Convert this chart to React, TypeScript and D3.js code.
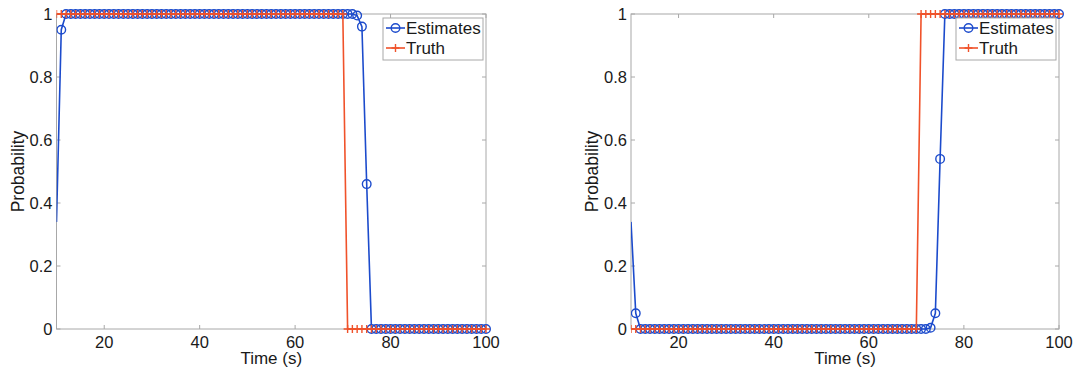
import React from 'react';
import * as d3 from 'd3';

// sampling times (s)
const TIME = [
  10, 11, 12, 13, 14, 15, 16, 17, 18, 19,
  20, 21, 22, 23, 24, 25, 26, 27, 28, 29,
  30, 31, 32, 33, 34, 35, 36, 37, 38, 39,
  40, 41, 42, 43, 44, 45, 46, 47, 48, 49,
  50, 51, 52, 53, 54, 55, 56, 57, 58, 59,
  60, 61, 62, 63, 64, 65, 66, 67, 68, 69,
  70, 71, 72, 73, 74, 75, 76, 77, 78, 79,
  80, 81, 82, 83, 84, 85, 86, 87, 88, 89,
  90, 91, 92, 93, 94, 95, 96, 97, 98, 99,
  100,
];

const LEFT_ESTIMATES = [
  0.34, 0.95, 1, 1, 1, 1, 1, 1, 1, 1,
  1, 1, 1, 1, 1, 1, 1, 1, 1, 1,
  1, 1, 1, 1, 1, 1, 1, 1, 1, 1,
  1, 1, 1, 1, 1, 1, 1, 1, 1, 1,
  1, 1, 1, 1, 1, 1, 1, 1, 1, 1,
  1, 1, 1, 1, 1, 1, 1, 1, 1, 1,
  1, 1, 1, 0.995, 0.96, 0.46, 0, 0, 0, 0,
  0, 0, 0, 0, 0, 0, 0, 0, 0, 0,
  0, 0, 0, 0, 0, 0, 0, 0, 0, 0,
  0,
];

const LEFT_TRUTH = [
  1, 1, 1, 1, 1, 1, 1, 1, 1, 1,
  1, 1, 1, 1, 1, 1, 1, 1, 1, 1,
  1, 1, 1, 1, 1, 1, 1, 1, 1, 1,
  1, 1, 1, 1, 1, 1, 1, 1, 1, 1,
  1, 1, 1, 1, 1, 1, 1, 1, 1, 1,
  1, 1, 1, 1, 1, 1, 1, 1, 1, 1,
  1, 0, 0, 0, 0, 0, 0, 0, 0, 0,
  0, 0, 0, 0, 0, 0, 0, 0, 0, 0,
  0, 0, 0, 0, 0, 0, 0, 0, 0, 0,
  0,
];

const RIGHT_ESTIMATES = [
  0.34, 0.05, 0, 0, 0, 0, 0, 0, 0, 0,
  0, 0, 0, 0, 0, 0, 0, 0, 0, 0,
  0, 0, 0, 0, 0, 0, 0, 0, 0, 0,
  0, 0, 0, 0, 0, 0, 0, 0, 0, 0,
  0, 0, 0, 0, 0, 0, 0, 0, 0, 0,
  0, 0, 0, 0, 0, 0, 0, 0, 0, 0,
  0, 0, 0, 0.004, 0.05, 0.54, 1, 1, 1, 1,
  1, 1, 1, 1, 1, 1, 1, 1, 1, 1,
  1, 1, 1, 1, 1, 1, 1, 1, 1, 1,
  1,
];

const RIGHT_TRUTH = [
  0, 0, 0, 0, 0, 0, 0, 0, 0, 0,
  0, 0, 0, 0, 0, 0, 0, 0, 0, 0,
  0, 0, 0, 0, 0, 0, 0, 0, 0, 0,
  0, 0, 0, 0, 0, 0, 0, 0, 0, 0,
  0, 0, 0, 0, 0, 0, 0, 0, 0, 0,
  0, 0, 0, 0, 0, 0, 0, 0, 0, 0,
  0, 1, 1, 1, 1, 1, 1, 1, 1, 1,
  1, 1, 1, 1, 1, 1, 1, 1, 1, 1,
  1, 1, 1, 1, 1, 1, 1, 1, 1, 1,
  1,
];

const X_DOMAIN = [10, 100];
const X_TICKS = [20, 40, 60, 80, 100];
const Y_TICKS = [0, 0.2, 0.4, 0.6, 0.8, 1];
const SERIES_NAMES = ['Estimates', 'Truth'];

const W = 1079;
const H = 370;
const FONT = '"Liberation Sans", Arial, Helvetica, sans-serif';
const BLUE = '#1c4bcc';
const RED = '#f0522a';
const AXIS = '#a8a8a8';
const TEXT = '#1a1a1a';

type PanelProps = {
  id: string;
  x0: number;
  x1: number;
  y0: number; // top
  y1: number; // bottom
  estimates: number[];
  truth: number[];
};

function Panel({ id, x0, x1, y0, y1, estimates, truth }: PanelProps) {
  const x = d3.scaleLinear().domain(X_DOMAIN).range([x0, x1]);
  const y = d3.scaleLinear().domain([0, 1]).range([y1, y0]);

  const estPts = TIME.map((t, i) => [t, estimates[i]] as [number, number]);
  const truPts = TIME.map((t, i) => [t, truth[i]] as [number, number]);
  const line = d3.line<[number, number]>().x(d => x(d[0])).y(d => y(d[1]));

  const tickLen = 4;
  const r = 4.3;
  const p = 4;

  // legend box
  const lgW = 100;
  const lgH = 42;
  const lgX = x1 - 3 - lgW;
  const lgY = y0 + 4;

  return (
    <g fontFamily={FONT}>
      <defs>
        <clipPath id={`clip-${id}`}>
          <rect x={x0} y={y0 - 10} width={x1 - x0 + 10} height={y1 - y0 + 20} />
        </clipPath>
      </defs>

      {/* axes box */}
      <rect x={x0} y={y0} width={x1 - x0} height={y1 - y0} fill="none" stroke={AXIS} strokeWidth={1} />
      {X_TICKS.map(t => (
        <g key={`xt${t}`}>
          <line x1={x(t)} x2={x(t)} y1={y1} y2={y1 - tickLen} stroke={AXIS} />
          <line x1={x(t)} x2={x(t)} y1={y0} y2={y0 + tickLen} stroke={AXIS} />
          <text x={x(t)} y={y1 + 19} textAnchor="middle" fontSize={16.5} fill={TEXT}>{t}</text>
        </g>
      ))}
      {Y_TICKS.map(t => (
        <g key={`yt${t}`}>
          <line x1={x0} x2={x0 + tickLen} y1={y(t)} y2={y(t)} stroke={AXIS} />
          <line x1={x1} x2={x1 - tickLen} y1={y(t)} y2={y(t)} stroke={AXIS} />
          <text x={x0 - 4} y={y(t) + 6} textAnchor="end" fontSize={16.5} fill={TEXT}>{String(t)}</text>
        </g>
      ))}

      <text x={(x0 + x1) / 2} y={y1 + 35} textAnchor="middle" fontSize={17} fill={TEXT}>Time (s)</text>
      <text
        transform={`translate(${x0 - 33},${(y0 + y1) / 2}) rotate(-90)`}
        textAnchor="middle"
        fontSize={17.5}
        fill={TEXT}
      >
        Probability
      </text>

      <g clipPath={`url(#clip-${id})`}>
        {/* Estimates */}
        <path d={line(estPts) || ''} fill="none" stroke={BLUE} strokeWidth={1.6} />
        {estPts.filter(d => d[0] > X_DOMAIN[0]).map(d => (
          <circle key={`c${d[0]}`} cx={x(d[0])} cy={y(d[1])} r={r} fill="none" stroke={BLUE} strokeWidth={1.4} />
        ))}
        {/* Truth */}
        <path d={line(truPts) || ''} fill="none" stroke={RED} strokeWidth={1.6} />
        {truPts.map(d => (
          <path
            key={`p${d[0]}`}
            d={`M${x(d[0]) - p},${y(d[1])}H${x(d[0]) + p}M${x(d[0])},${y(d[1]) - p}V${y(d[1]) + p}`}
            stroke={RED}
            strokeWidth={1.4}
            fill="none"
          />
        ))}
      </g>

      {/* legend */}
      <rect x={lgX} y={lgY} width={lgW} height={lgH} fill="#fff" stroke={AXIS} strokeWidth={1} />
      <line x1={lgX + 3} x2={lgX + 22} y1={lgY + 10} y2={lgY + 10} stroke={BLUE} strokeWidth={1.6} />
      <circle cx={lgX + 12.5} cy={lgY + 10} r={r} fill="none" stroke={BLUE} strokeWidth={1.4} />
      <text x={lgX + 23} y={lgY + 16} fontSize={17} fill={TEXT}>{SERIES_NAMES[0]}</text>
      <line x1={lgX + 3} x2={lgX + 22} y1={lgY + 30} y2={lgY + 30} stroke={RED} strokeWidth={1.6} />
      <path
        d={`M${lgX + 12.5 - p},${lgY + 30}H${lgX + 12.5 + p}M${lgX + 12.5},${lgY + 30 - p}V${lgY + 30 + p}`}
        stroke={RED}
        strokeWidth={1.4}
      />
      <text x={lgX + 23} y={lgY + 36} fontSize={17} fill={TEXT}>{SERIES_NAMES[1]}</text>
    </g>
  );
}

export default function App() {
  return (
    <div style={{ position: 'absolute', left: 0, top: 0 }}>
      <svg width={W} height={H} style={{ display: 'block', background: '#fff' }}>
        <Panel id="l" x0={56.5} x1={486} y0={14} y1={329} estimates={LEFT_ESTIMATES} truth={LEFT_TRUTH} />
        <Panel id="r" x0={631} x1={1059} y0={14} y1={329} estimates={RIGHT_ESTIMATES} truth={RIGHT_TRUTH} />
      </svg>
    </div>
  );
}
